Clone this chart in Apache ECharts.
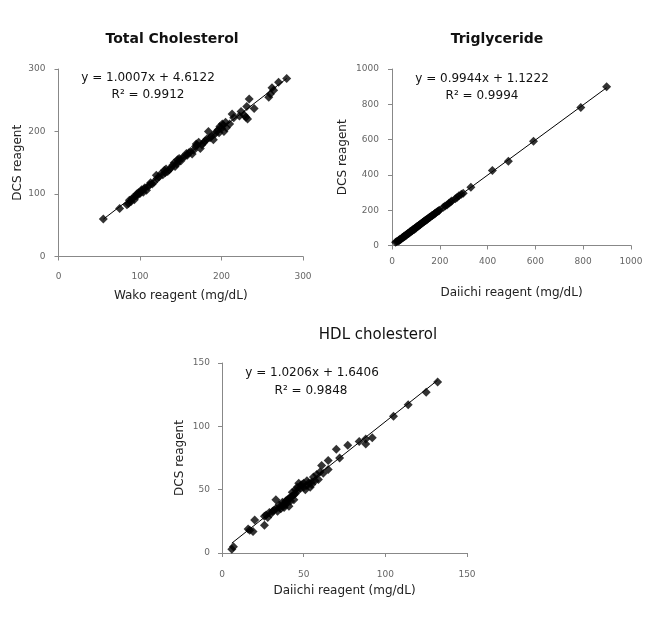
<!DOCTYPE html>
<html><head><meta charset="utf-8">
<script src="https://cdn.jsdelivr.net/npm/echarts@6/dist/echarts.min.js"></script>
<style>html,body{margin:0;padding:0;background:#fff}#c{width:648px;height:621px}</style>
</head><body><div id="c"></div><script>
// ---- Total Cholesterol (Wako vs DCS) ----
const tcData = [[55,60],[75,77],[84,83],[86,85],[87,90],[89,88],[90,92],[92,95],[93,91],[95,97],[96,100],[97,98],[98,102],[100,101],[101,104],[102,107],[104,103],[105,108],[106,110],[108,106],[110,112],[112,115],[113,118],[115,116],[117,119],[120,130],[121,125],[123,127],[126,133],[128,131],[130,138],[131,134],[132,140],[134,136],[136,139],[138,142],[140,146],[142,150],[143,144],[145,148],[146,155],[147,152],[148,157],[150,153],[152,158],[155,160],[157,165],[158,162],[160,166],[162,168],[164,164],[166,170],[168,176],[169,180],[170,178],[172,183],[174,173],[176,179],[178,182],[180,185],[182,188],[184,200],[186,190],[188,193],[190,187],[192,196],[194,200],[196,203],[197,198],[198,208],[200,205],[201,212],[202,210],[203,200],[205,215],[206,206],[210,212],[213,228],[215,222],[222,225],[224,232],[228,226],[230,223],[231,240],[232,220],[234,252],[240,237],[258,255],[260,260],[262,270],[264,266],[270,279],[280,285]];
const tcFit = [1.0007, 4.6122];
const tcTicks = [0, 300, 100];
// ---- Triglyceride ----
const tgData = [[15,18],[20,22],[25,24],[28,30],[30,28],[33,35],[36,34],[40,40],[42,44],[45,46],[48,47],[50,52],[53,51],[55,56],[58,60],[60,58],[63,64],[65,66],[68,70],[70,68],[73,74],[75,78],[78,77],[80,82],[83,84],[85,83],[88,90],[90,92],[93,91],[95,97],[98,100],[100,98],[103,105],[105,107],[108,108],[110,112],[113,114],[115,118],[118,117],[120,122],[123,125],[125,126],[128,130],[130,132],[133,134],[135,137],[138,140],[140,141],[143,146],[145,145],[148,150],[150,152],[155,157],[158,160],[160,162],[165,167],[168,170],[170,172],[175,176],[178,180],[180,182],[185,187],[190,192],[195,196],[198,200],[215,217],[222,224],[230,230],[238,240],[245,247],[250,252],[265,265],[272,272],[280,282],[290,290],[298,296],[330,330],[420,425],[487,478],[592,590],[790,782],[898,900]];
const tgFit = [0.9944, 1.1222];
const tgTicks = [0, 1000, 200];
// ---- HDL cholesterol ----
const hdlData = [[6,3],[7,5],[16,19],[17,18],[19,17],[20,26],[26,22],[26,29],[27,30],[28,28],[29,32],[30,31],[31,33],[32,34],[33,42],[33,35],[34,33],[35,36],[35,38],[36,35],[37,40],[37,37],[38,39],[38,36],[39,41],[39,38],[40,42],[40,40],[41,37],[41,43],[42,44],[42,41],[43,45],[43,48],[44,46],[44,42],[45,47],[45,50],[46,52],[46,49],[47,55],[48,53],[48,51],[49,54],[50,52],[50,55],[51,50],[52,53],[52,57],[53,55],[54,52],[55,56],[55,54],[56,60],[57,57],[58,62],[59,58],[60,64],[61,69],[62,63],[65,73],[65,66],[70,82],[72,75],[77,85],[84,88],[88,86],[88,90],[92,91],[105,108],[114,117],[125,127],[132,135]];
const hdlFit = [1.0206, 1.6406];
const hdlTicks = [0, 150, 50];

const titles = ['Total Cholesterol', 'Triglyceride', 'HDL cholesterol'];
const xNames = ['Wako reagent (mg/dL)', 'Daiichi reagent (mg/dL)', 'Daiichi reagent (mg/dL)'];
const yName = 'DCS reagent';
const eqs = ['y = 1.0007x + 4.6122', 'y = 0.9944x + 1.1222', 'y = 1.0206x + 1.6406'];
const r2s = ['R\u00b2 = 0.9912', 'R\u00b2 = 0.9994', 'R\u00b2 = 0.9848'];

function fitLine(data, fit) {
  const xs = data.map(d => d[0]);
  const a = Math.min(...xs), b = Math.max(...xs);
  return [[a, fit[0]*a + fit[1]], [b, fit[0]*b + fit[1]]];
}

const FONT = 'DejaVu Sans';
const plain = v => String(v);
function xAx(gi, t, name, gap, margin) {
  return {type:'value', gridIndex:gi, min:t[0], max:t[1], interval:t[2], name:name,
    nameLocation:'middle', nameGap:gap, nameTextStyle:{fontFamily:FONT, fontSize:12, color:'#222'},
    axisLine:{show:true, onZero:false, lineStyle:{color:'#888', width:1}},
    axisTick:{show:true, length:4, lineStyle:{color:'#888'}},
    axisLabel:{fontFamily:FONT, fontSize:9, color:'#666', margin:margin, formatter:plain},
    splitLine:{show:false}};
}
function yAx(gi, t, gap, margin) {
  return {type:'value', gridIndex:gi, min:t[0], max:t[1], interval:t[2], name:yName,
    nameLocation:'middle', nameGap:gap, nameTextStyle:{fontFamily:FONT, fontSize:12, color:'#222'},
    axisLine:{show:true, onZero:false, lineStyle:{color:'#888', width:1}},
    axisTick:{show:true, length:4, lineStyle:{color:'#888'}},
    axisLabel:{fontFamily:FONT, fontSize:9, color:'#666', margin:margin, formatter:plain},
    splitLine:{show:false}};
}
function scat(i, data) {
  return {type:'scatter', xAxisIndex:i, yAxisIndex:i, data:data, symbol:'diamond', symbolSize:9,
    itemStyle:{color:'#000'}, z:3, silent:true};
}
function line(i, data, fit) {
  return {type:'line', xAxisIndex:i, yAxisIndex:i, data:fitLine(data, fit), symbol:'none',
    lineStyle:{color:'#000', width:1}, z:2, silent:true};
}
function txt(x, y, s, size, weight) {
  return {type:'text', x:x, y:y, style:{text:s, fontFamily:FONT, fontSize:size, fontWeight:weight||'normal',
    fill:'#111', textAlign:'center', textVerticalAlign:'middle'}};
}

const chart = echarts.init(document.getElementById('c'), null, {renderer:'canvas'});
chart.setOption({
  animation:false,
  backgroundColor:'#fff',
  grid:[
    {left:58.5, top:69, width:244.5, height:187.5},
    {left:392, top:69, width:239, height:176.5},
    {left:222, top:363, width:245, height:190}
  ],
  xAxis:[xAx(0, tcTicks, xNames[0], 33, 16), xAx(1, tgTicks, xNames[1], 41, 12), xAx(2, hdlTicks, xNames[2], 32, 17)],
  yAxis:[yAx(0, tcTicks, 35, 13), yAx(1, tgTicks, 43, 13), yAx(2, hdlTicks, 36, 12)],
  series:[line(0, tcData, tcFit), scat(0, tcData), line(1, tgData, tgFit), scat(1, tgData), line(2, hdlData, hdlFit), scat(2, hdlData)],
  graphic:[
    txt(172, 39, titles[0], 14, 'bold'),
    txt(497, 39, titles[1], 14, 'bold'),
    txt(378, 335, titles[2], 15, 'normal'),
    txt(148, 78, eqs[0], 12), txt(148, 95, r2s[0], 12),
    txt(482, 79, eqs[1], 12), txt(482, 96, r2s[1], 12),
    txt(312, 373, eqs[2], 12), txt(311, 391, r2s[2], 12)
  ]
});
</script></body></html>
